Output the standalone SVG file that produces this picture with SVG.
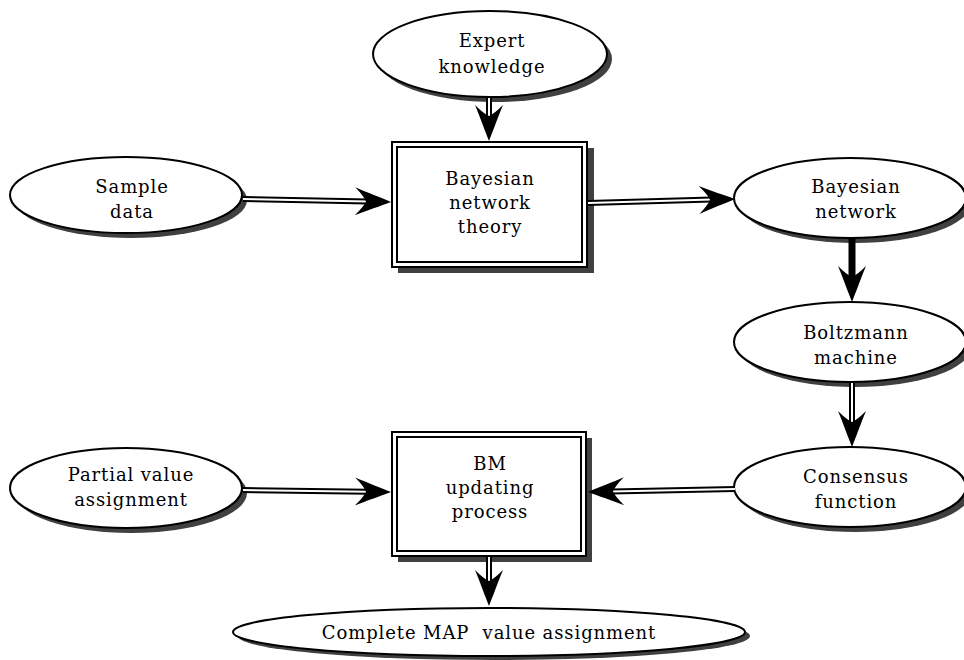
<svg xmlns="http://www.w3.org/2000/svg" xmlns:xlink="http://www.w3.org/1999/xlink" width="964" height="660" viewBox="0 0 964 660">
<style>
.sh{fill:#404040;stroke:none}
.el{fill:#fff;stroke:#000;stroke-width:2}
.bx{fill:#fff;stroke:#000;stroke-width:2}
.bi{fill:none;stroke:#000;stroke-width:2}
text{font-family:'DejaVu Serif','Liberation Serif',serif;font-size:18px;letter-spacing:0.9px;text-anchor:middle;fill:#000;white-space:pre}
.o{stroke:#000;stroke-width:6;fill:none}
.i{stroke:#fff;stroke-width:2;fill:none}
.t{stroke:#000;stroke-width:7;fill:none}
</style>
<defs>
<path id="ah" d="M0,0 C-10,-4 -24,-9 -36,-14 Q-27,-5 -25,0 Q-27,5 -36,14 C-24,9 -10,4 0,0 Z" fill="#000"/>
</defs>
<g id="expert">
<ellipse class="sh" cx="495" cy="59" rx="117" ry="43"/>
<ellipse class="el" cx="490" cy="54" rx="117" ry="43"/>
<text x="492" y="47">Expert</text>
<text x="492" y="73">knowledge</text>
</g>
<g id="bnt">
<rect class="sh" x="398" y="148" width="196" height="125"/>
<rect class="bx" x="392" y="142" width="195" height="125"/>
<rect class="bi" x="397" y="147" width="185" height="115"/>
<text x="490" y="185">Bayesian</text>
<text x="490" y="209">network</text>
<text x="490" y="233">theory</text>
</g>
<g id="sample">
<ellipse class="sh" cx="131" cy="200" rx="116" ry="38"/>
<ellipse class="el" cx="126" cy="195" rx="116" ry="38"/>
<text x="132" y="193">Sample</text>
<text x="132" y="218">data</text>
</g>
<g id="bn">
<ellipse class="sh" cx="855" cy="203" rx="116" ry="40"/>
<ellipse class="el" cx="850" cy="198" rx="116" ry="40"/>
<text x="856" y="193">Bayesian</text>
<text x="856" y="218">network</text>
</g>
<g id="boltz">
<ellipse class="sh" cx="855" cy="347" rx="116" ry="40"/>
<ellipse class="el" cx="850" cy="342" rx="116" ry="40"/>
<text x="856" y="339">Boltzmann</text>
<text x="856" y="364">machine</text>
</g>
<g id="cons">
<ellipse class="sh" cx="855" cy="492" rx="116" ry="40"/>
<ellipse class="el" cx="850" cy="487" rx="116" ry="40"/>
<text x="856" y="483">Consensus</text>
<text x="856" y="508">function</text>
</g>
<g id="bm">
<rect class="sh" x="398" y="438" width="194" height="124"/>
<rect class="bx" x="392" y="432" width="194" height="124"/>
<rect class="bi" x="397" y="437" width="184" height="114"/>
<text x="490" y="470">BM</text>
<text x="490" y="494">updating</text>
<text x="490" y="518">process</text>
</g>
<g id="partial">
<ellipse class="sh" cx="131" cy="493" rx="116" ry="40"/>
<ellipse class="el" cx="126" cy="488" rx="116" ry="40"/>
<text x="131" y="481">Partial value</text>
<text x="131" y="506">assignment</text>
</g>
<g id="complete">
<ellipse class="sh" cx="494" cy="636" rx="256" ry="24"/>
<ellipse class="el" cx="489" cy="632" rx="256" ry="24"/>
<text x="489" y="639" xml:space="preserve">Complete MAP  value assignment</text>
</g>
<g id="connectors">
<line class="o" x1="489" y1="98" x2="489" y2="118"/><line class="i" x1="489" y1="98" x2="489" y2="118"/>
<use xlink:href="#ah" transform="translate(489,141) rotate(90)"/>
<line class="o" x1="243" y1="199" x2="368" y2="201.5"/><line class="i" x1="243" y1="199" x2="368" y2="201.5"/>
<use xlink:href="#ah" transform="translate(391,202) rotate(1)"/>
<line class="o" x1="588" y1="203" x2="712" y2="199.6"/><line class="i" x1="588" y1="203" x2="712" y2="199.6"/>
<use xlink:href="#ah" transform="translate(735,199) rotate(-1.5)"/>
<line class="t" x1="852" y1="238" x2="852" y2="280"/>
<use xlink:href="#ah" transform="translate(852,302) rotate(90)"/>
<line class="o" x1="852" y1="383" x2="852" y2="424"/><line class="i" x1="852" y1="383" x2="852" y2="424"/>
<use xlink:href="#ah" transform="translate(852,447) rotate(90)"/>
<line class="o" x1="735" y1="489" x2="611" y2="491.5"/><line class="i" x1="735" y1="489" x2="611" y2="491.5"/>
<use xlink:href="#ah" transform="translate(588,492) rotate(179)"/>
<line class="o" x1="243" y1="490" x2="368" y2="491.7"/><line class="i" x1="243" y1="490" x2="368" y2="491.7"/>
<use xlink:href="#ah" transform="translate(391,492) rotate(0.8)"/>
<line class="o" x1="489" y1="557" x2="489" y2="583"/><line class="i" x1="489" y1="557" x2="489" y2="583"/>
<use xlink:href="#ah" transform="translate(489,606) rotate(90)"/>
</g>
</svg>
